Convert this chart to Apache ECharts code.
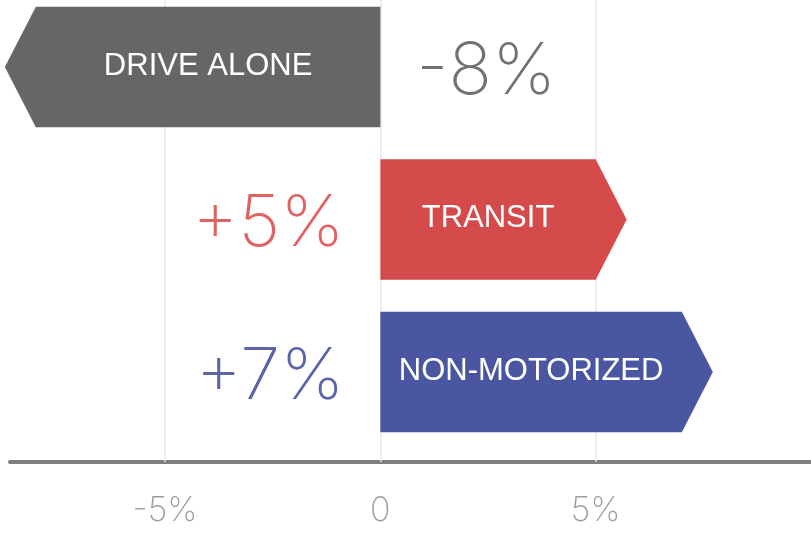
<!DOCTYPE html>
<html><head><meta charset="utf-8">
<script src="https://cdn.jsdelivr.net/npm/echarts@6/dist/echarts.min.js"></script>
<style>html,body{margin:0;padding:0;background:#fff}#c{width:811px;height:536px}</style>
</head><body><div id="c"></div>
<script>
const categories = ['DRIVE ALONE', 'TRANSIT', 'NON-MOTORIZED'];
const changes = [-8, 5, 7];
const valueLabels = ['-8%', '+5%', '+7%'];
const barColors = ['#666666', '#d54b4c', '#4a56a1'];
const valueLabelColors = ['#727272', '#e06263', '#5c64a8'];
const tickValues = [-5, 0, 5];
const tickLabels = ['-5%', '0', '5%'];

const TIP = 31;
const chart = echarts.init(document.getElementById('c'), null, {renderer: 'canvas'});

function renderItem(params, api) {
  const v = api.value(0);
  const idx = api.value(1);
  const base = api.coord([0, idx]);
  const end = api.coord([v, idx]);
  const next = api.coord([0, idx + 1]);
  const h = Math.abs(next[1] - base[1]) * 0.79;
  const dir = v >= 0 ? 1 : -1;
  const x0 = base[0], xe = end[0], cy = end[1];
  const top = cy - h / 2, bot = cy + h / 2;
  const i = params.dataIndex;
  return {
    type: 'group',
    children: [
      {
        type: 'polygon',
        shape: {points: [[x0, top], [xe, top], [xe + dir * TIP, cy], [xe, bot], [x0, bot]]},
        style: {fill: barColors[i]}
      },
      {
        type: 'text',
        x: (x0 + xe) / 2, y: cy - 1,
        style: {
          text: categories[i], fill: '#ffffff',
          font: '31px "Liberation Sans", Arial, sans-serif',
          align: 'center', verticalAlign: 'middle'
        }
      },
      {
        type: 'text',
        x: x0 - dir * 36, y: cy + 5,
        style: {
          text: valueLabels[i], fill: valueLabelColors[i],
          font: '200 72px Inter, Roboto, sans-serif',
          align: dir > 0 ? 'right' : 'left', verticalAlign: 'middle'
        }
      }
    ]
  };
}

chart.setOption({
  animation: false,
  grid: {left: 10, right: 0, top: 0, height: 462},
  xAxis: {
    type: 'value', min: -8.6, max: 10,
    axisLine: {show: true, onZero: false, lineStyle: {color: '#7f7f7f', width: 4}},
    axisTick: {show: false},
    splitLine: {show: false},
    axisLabel: {
      customValues: tickValues,
      formatter: function (val) { return tickLabels[tickValues.indexOf(val)]; },
      color: '#9d9d9d', fontFamily: 'Inter', fontWeight: 200, fontSize: 34, margin: 32
    }
  },
  yAxis: {
    type: 'value', inverse: true, show: false,
    min: -0.44, max: 2.59
  },
  series: [
    {
      type: 'line', data: [], z: 1, silent: true,
      markLine: {
        silent: true, symbol: 'none', label: {show: false}, z: 1,
        lineStyle: {color: '#e8e8e8', width: 1.5, type: 'solid'},
        data: tickValues.map(v => ({xAxis: v}))
      }
    },
    {
      type: 'custom', z: 10,
      renderItem: renderItem,
      encode: {x: 0, y: 1},
      data: changes.map((v, i) => [v, i])
    }
  ]
});
</script></body></html>
